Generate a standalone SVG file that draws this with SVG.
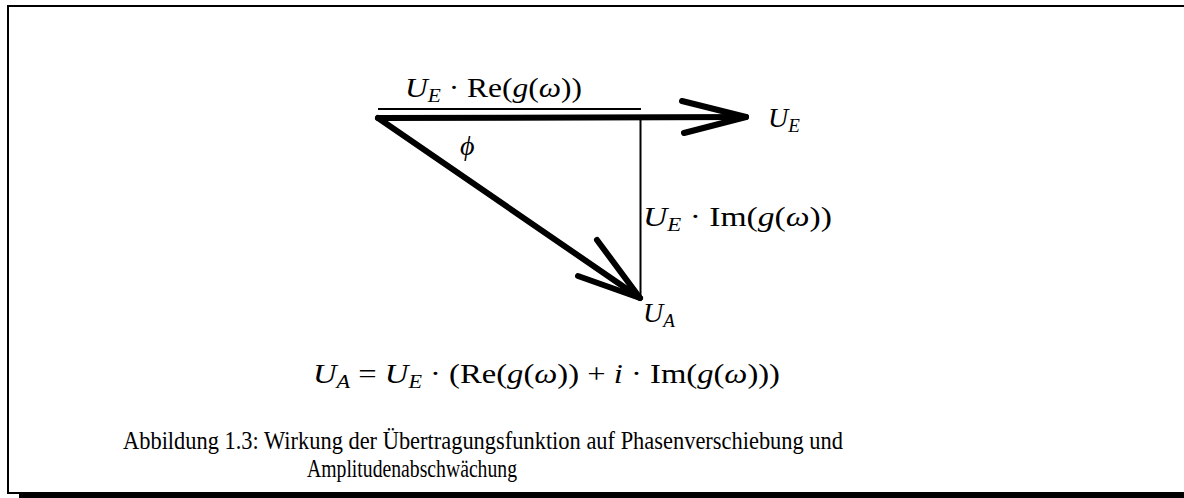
<svg xmlns="http://www.w3.org/2000/svg" width="1184" height="498" viewBox="0 0 1184 498">
<style>
.m{font-family:"Liberation Serif","DejaVu Serif",serif;font-size:28px;fill:#000}
.i{font-style:italic}
.s{font-size:19px;font-style:italic}
.cap{font-family:"Liberation Serif","DejaVu Serif",serif;font-size:26px;fill:#000}
.thick{stroke:#000;stroke-width:6;stroke-linecap:round;stroke-linejoin:round;fill:none}
.thin{stroke:#000;stroke-width:2;fill:none}
</style>
<rect x="0" y="0" width="1184" height="498" fill="#fff"/>
<g id="frame">
<rect x="7" y="5" width="1177" height="2" fill="#000"/>
<rect x="7" y="5" width="2" height="489" fill="#000"/>
<rect x="7" y="492" width="1177" height="2" fill="#000"/>
<rect x="19" y="492" width="1165" height="6" fill="#000"/>
</g>
<g id="connectors">
<line class="thin" x1="378" y1="109" x2="641" y2="109"/>
<line class="thin" x1="640.5" y1="118" x2="640.5" y2="299"/>
<line class="thick" x1="378" y1="118" x2="746" y2="117"/>
<polyline class="thick" points="682,101 746,117 684,133"/>
<line class="thick" x1="378" y1="118" x2="640" y2="298"/>
<polyline class="thick" points="597,240 640,298 578,276"/>
</g>
<g id="label-re">
<text class="m" x="405" y="97" textLength="177" lengthAdjust="spacingAndGlyphs"><tspan class="i">U</tspan><tspan class="s" dy="5">E</tspan><tspan dy="-5"> · Re(</tspan><tspan class="i">g</tspan>(<tspan class="i">ω</tspan>))</text>
</g>
<g id="label-ue">
<text class="m" x="768" y="127"><tspan class="i">U</tspan><tspan class="s" dy="5">E</tspan></text>
</g>
<g id="label-phi">
<text class="m i" x="460" y="155">ϕ</text>
</g>
<g id="label-im">
<text class="m" x="643" y="226" textLength="189" lengthAdjust="spacingAndGlyphs"><tspan class="i">U</tspan><tspan class="s" dy="5">E</tspan><tspan dy="-5"> · Im(</tspan><tspan class="i">g</tspan>(<tspan class="i">ω</tspan>))</text>
</g>
<g id="label-ua">
<text class="m" x="643" y="322"><tspan class="i">U</tspan><tspan class="s" dy="5">A</tspan></text>
</g>
<g id="formula">
<text class="m" x="313" y="383" textLength="467" lengthAdjust="spacingAndGlyphs"><tspan class="i">U</tspan><tspan class="s" dy="5">A</tspan><tspan dy="-5"> = </tspan><tspan class="i">U</tspan><tspan class="s" dy="5">E</tspan><tspan dy="-5"> · (Re(</tspan><tspan class="i">g</tspan>(<tspan class="i">ω</tspan>)) + <tspan class="i">i</tspan> · Im(<tspan class="i">g</tspan>(<tspan class="i">ω</tspan>)))</text>
</g>
<g id="caption">
<text class="cap" x="123" y="449" textLength="720" lengthAdjust="spacingAndGlyphs">Abbildung 1.3: Wirkung der Übertragungsfunktion auf Phasenverschiebung und</text>
<text class="cap" x="307" y="477" textLength="210" lengthAdjust="spacingAndGlyphs">Amplitudenabschwächung</text>
</g>
</svg>
